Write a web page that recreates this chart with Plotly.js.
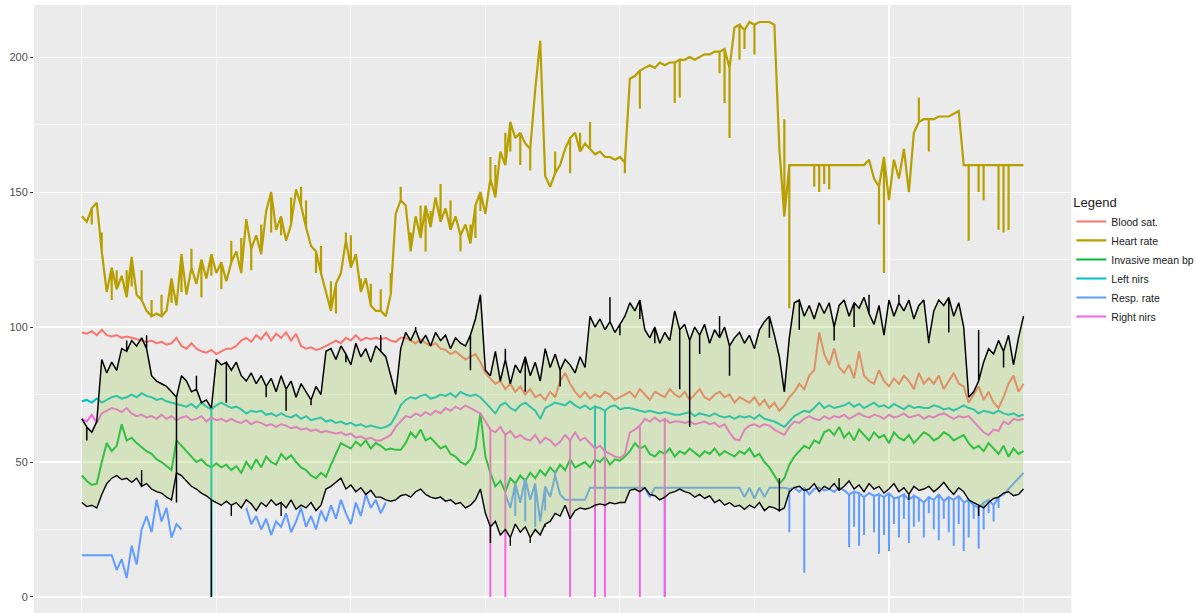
<!DOCTYPE html>
<html>
<head>
<meta charset="utf-8">
<script src="https://cdn.plot.ly/plotly-3.0.1.min.js"></script>
<style>html,body{margin:0;padding:0;background:#fff;}#chart{width:1197px;height:613px;}</style>
</head>
<body>
<div id="chart"></div>
<script>
// time axis (sample index, 5 units apart)
const time = [
0,5,10,15,20,25,30,35,40,45, 50,55,60,65,70,75,80,85,90,95,
100,105,110,115,120,125,130,135,140,145, 150,155,160,165,170,175,180,185,190,195,
200,205,210,215,220,225,230,235,240,245, 250,255,260,265,270,275,280,285,290,295,
300,305,310,315,320,325,330,335,340,345, 350,355,360,365,370,375,380,385,390,395,
400,405,410,415,420,425,430,435,440,445, 450,455,460,465,470,475,480,485,490,495,
500,505,510,515,520,525,530,535,540,545, 550,555,560,565,570,575,580,585,590,595,
600,605,610,615,620,625,630,635,640,645, 650,655,660,665,670,675,680,685,690,695,
700,705,710,715,720,725,730,735,740,745, 750,755,760,765,770,775,780,785,790,795,
800,805,810,815,820,825,830,835,840,845, 850,855,860,865,870,875,880,885,890,895,
900,905,910,915,920,925,930,935,940,945];

const bloodSat = [
98,97.5,98.5,97,99,97,96.5,97,96,96.5, 96,95.5,95,94.5,95,94,94.5,93.5,94,96,
93,92,94,92,91,90.5,91.5,90,91,92, 92,93,95,96,94.5,97,95.5,98,95,97.5,
96,98,95,97.5,93,92,92.5,91.5,92,93, 94,95,94,96,95,97,95,96,95.5,96,
95.5,96,95,94.5,96,96,95,94,95.5,94, 93,94,92,91.5,90,91,89.5,88,89,90,
87,83,81,79,80,77,79,76,78,75, 77,74,75,73,76,74,80,83,79,76,
74,76,73.5,75,74,76,75,73,74,75, 76,74,77,75,73,76,75,74,77,75,
74,76,73,75,77,74,73,75,76,74, 75,72,74,73,72,74,71,73,70,72,
69,71,74,76,79,77,82,84,98,90, 86,92,85,83,86,81,91,82,80,79,
84,80,78,81,79,82,80,77,83,79, 81,79,82,77,80,83,79,78,72,75,
78,73,76,72,70,74,79,82,76,79];

const heartRate = [
141,139,144,146,128,113,122,114,119,111, 126,112,110,106,104,105,104,106,118,108,
127,112,122,116,125,118,127,120,124,117, 124,128,120,140,129,134,127,143,150,136,
141,132,138,151,145,137,130,128,120,113, 106,116,120,132,122,127,113,118,108,106,
106,104,112,142,147,145,128,141,133,145, 137,148,139,144,136,141,134,138,131,145,
150,142,155,148,165,160,176,170,172,168, 166,188,206,156,152,157,160,166,170,172,
165,168,166,164,165,163,163,162,163,161, 192,193,195,196,197,196,198,197,198,198,
199,199,200,199,200,201,201,202,202,203, 196,211,212,210,213,212,213,213,213,212,
166,141,160,160,160,160,160,160,160,160, 160,160,160,160,160,160,160,160,162,155,
152,163,147,162,155,166,150,172,176,177, 177,177,178,178,178,179,180,160,160,160,
160,160,160,160,160,160,160,160,160,160];
const heartRateSpikeT = [10,20,30,35,45,50,60,70,80,90,100,110,120,130,140,150,160,170,180,190,200,210,220,225,235,240,250,255,265,270,280,290,300,310,320,330,340,345,350,360,370,380,390,395,400,410,415,425,430,440,450,475,490,500,510,545,560,595,600,640,645,650,660,665,675,705,710,735,740,745,750,800,805,840,850,890,900,905,920,925,930];
const heartRateSpikeV = [138,135,110,121,121,115,121,110,112,109,113,129,111,119,114,132,133,121,138,135,134,148,152,147,120,130,117,105,135,134,118,116,114,120,152,135,145,128,143,153,147,128,138,133,143,163,160,172,165,160,158,165,157,172,176,157,181,183,185,194,183,170,199,203,201,177,107,152,150,153,151,138,120,185,165,132,150,147,136,135,136];

const invasiveBp = [
45,43,41.5,42,50,57,54,56,64,58, 59,57,55.5,54,53,51,50,48.5,47,58,
56,54,52,50,51,49,48,49.5,48,49, 47,48.5,46,50,47.5,51,48,52,50,49,
53,51,52.5,50,48,47,45,44,46,44.5, 49,53,57,56,55,57.5,56,58,55,57,
56,54.5,55,54.5,54.5,57,61,59,62,58, 59,57,55,56,53,52,50,49,51,55,
68,52,46,41,43,39,44,42,45,43, 46,44,47,45,48,46,49,47,51,48,
49,50,48,51,50,52,49,51,50.5,52, 54,57,55,56,53,52,54,53,55,52,
54,53,55,53.5,52,54,53,55,52.5,54, 53,52,54,53,55,52,53,50,48,45,
42,44,49,52,54,56,55,58,57,61, 62,60,63,59,61,58,62,60,58,61,
59,60,57,61,59,58,60,57,59,61, 60,58,59,61,60,58,59,60,57,55,
56,54,57,55,53,56,52,55,53,54];

const leftNirs = [
72.5,73,72,73.5,72,73,74,74.5,73.5,74, 75,74,75.5,74.5,74,73,73.5,72.5,72,71.5,
71,70.5,71.5,70,72,70.5,69.5,71,72,71, 70,70.5,69.5,68,69,68.5,69,67.5,68,67,
68,67,66.5,67.5,66,67,65.5,66,66.5,65, 65.5,64.5,65,64,64.5,63.5,64,63,63.5,63,
62.5,63,64,67,71,73,74,73.5,74.5,75, 73.5,74,75,74.5,75.5,74,76,75,74.5,75,
74,72,70,68,71,72,70,69,71,72, 70.5,69,66,70,71,72,71.5,71,72.5,71,
70,71,69.5,70.5,70,69,70.5,71,69.5,70, 70,69.5,69,68.5,69,68.5,68,68.5,68,67.5,
67.5,68,68.5,67,68,67.5,67,68,67,66.5, 67,66,67,66.5,67,66,67.5,66,65.5,65,
64,63,65,67,68,69,68.5,70,72,70, 71,70,70.5,71,72,70.5,71.5,70,71,72,
70.5,71,70,71.5,70.5,69.5,71,70,70.5,70, 70,71,70.5,69.5,70,69,70,71,70,69.5,
68,69,68.5,68,69,68,67.5,68,67,67.5];
const leftNirsDropT = [130,515,525];
const leftNirsDropV = [0,46,47];

const respRate = [
15.5,15.5,15.5,15.5,15.5,15.5,15.5,10,14,7, 19,12,25,30,24,36,28,33,22,27,
25,null,null,null,null,null,null,null,null,null, null,null,null,33,27,30,25,29,23,28,
26,31,24,28,33,26,30,25,32,28, 34,29,36,31,27,35,30,38,33,36,
31,35,null,null,null,null,null,null,null,null, null,null,null,null,null,null,null,null,null,null,
null,null,null,null,null,38,33,42,35,44, 36,42,28,41,37,45,38,36,36,36,
36,36,40.5,40.5,40.5,40.5,40.5,40.5,40.5,40.5, 40.5,40.5,40.5,40.5,37,40.5,40.5,40.5,40.5,40.5,
40.5,40.5,40.5,40.5,40.5,40.5,40.5,40.5,40.5,40.5, 40.5,40.5,40.5,37,40.5,36.5,40.5,37,40.5,40.5,
40.5,40.5,40,40.5,39,40.5,38,40,40.5,39.5, 40,39,40.5,39.5,38,39,38.5,37,38.5,37.5,
38,37,38.5,36.5,37,38,36,37.5,36.5,35, 37,36,38,35.5,37,36,37.5,35,36,34,
33,35,36,34,37,38,40,42,44,46];
const respRateSpikeT = [435,445,455,465,475,585,710,725,770,775,780,785,795,800,805,810,815,820,825,830,835,840,845,850,855,860,865,870,875,880,885,890,895,900,905,910,915,920];
const respRateSpikeV = [30,28,26,32,47,0,24,9,18.5,26,19,23,24,16,23,17,27,22,29,20,26,28,22,31,25,21,29,24,19,27,17,22,29,18,25,31,28,33];

const rightNirs = [
66,65,67.5,64.5,68,69,70,69.5,68.5,70, 68,67,67.5,66.5,67,66,67.5,66,67,65.5,
66.5,67,65.5,66,67,65,66.5,65.5,66,65, 66,65,64.5,65.5,64,65,64.5,63.5,64,63,
64,63.5,62.5,63,62,62.5,61.5,62,61,61.5, 61,60.5,61,60,60.5,59,59.5,58.5,59,58,
58,59,60,63,65,67,66.5,68,67,68.5, 67.5,69,68,70,69,70.5,69.5,71,70,69,
68,65,62,61,63,60,61.5,59,60,58.5, 58,60,57,59,58,56,57.5,60,58,61,
58,59,57,55,56,54,53,52,51.5,53, 61,62,63.5,66,65,66.5,65,66,64.5,65,
65,64.5,65,64,64.5,65,64,64.5,63,64, 61,58.5,58,62,63.5,64,63,64,63.5,62,
61,60,63,65,64.5,66,67,66,65.5,67, 66,67,66.5,67.5,66,67,68,67,66.5,67.5,
67,66,67.5,66.5,67,68,66.5,67,67.5,66, 67,66.5,67.5,68,67,66,67,66.5,67,65,
63,61,60,62,61.5,65,64,66,65.5,66];
const rightNirsDropT = [410,425,490,515,525,560,585];
const rightNirsDropV = [0,0,0,0,0,0,0];

// envelope (black lines) and shaded band
const upperBound = [
66,63,61,65,88,83,87,84,92,91, 95,93,96,92,82,80,79,78,76,74,
82,80,76,77,72,73,70,88,86,87, 84,87,82,80,83,79,82,78,81,76,
82,77,80,74,79,76,73,78,75,91, 92,88,93,90,86,94,89,92,87,93,
91,89,82,75,92,98,95,99,94,97, 93,98,95,97,92,96,94,93,97,103,
112,84,82,91,80,88,79,86,83,89, 82,87,80,92,85,90,84,88,86,83,
89,85,104,100,103,99,102,98,101,104, 109,106,110,99,96,100,94,98,95,106,
99,101,95,100,97,101,94,99,96,100, 93,96,98,94,97,92,99,102,104,97,
89,76,96,109,110,104,108,103,109,105, 109,100,108,110,104,109,107,111,105,101,
108,97,110,104,109,106,110,103,108,110, 95,106,110,108,111,104,109,100,74,76,
80,87,92,90,95,91,97,86,96,104];
const upperBoundSpikeT = [5,45,65,95,115,145,185,205,230,265,300,335,390,425,445,480,530,540,560,575,600,610,620,640,650,690,720,755,775,790,805,820,850,870,900,925];
const upperBoundSpikeV = [58,95,97,35,82,72,74,69,71,87,97,100,84,92,76,78,111,97,103,94,77,63,90,104,82,96,99,95,100,112,99,112,94,98,99,85];

const lowerBound = [
35,33.5,34,33,38,42,44,45,43.5,44, 42.5,44,41,42,40,39,38.5,37,36,46,
45,43,41,40,38.5,37.5,36,35,34,35.5, 34,35,33,36,34.5,32,35,33.5,36,34,
35,33,36,32.5,34,33,35,32,34,40, 41,42.5,44,40,41.5,39,40.5,38,39.5,37,
37,36,35.5,36,37.5,38,37,39,40,38, 37,36.5,37,35.5,36,34.5,35,33,34,36,
40,31,26,28,23,25,22,27,24,26, 22,25,23,27,28,31,30,34,29,32,
33,32.5,33,34,34.5,34,35,34.5,35,35, 39.5,40,39,40.5,38,37.5,36,37,38.5,39,
40,39,38.5,37,38,36.5,37.5,35,36,34, 35,33.5,34,32.5,34,33,35,32,33.5,33,
32,33,39,40.5,41,39.5,40,42,39,41, 40,42,39.5,41,43,40,41.5,39,42,40,
41,38.5,40,42,39,40.5,38,41,39.5,40, 41,39,40.5,42.5,40,38,40.5,39,36,35,
34,33,35,36.5,37,38.5,39,37.5,38,40];
const lowerBoundDropT = [60,130,150,200,410,430,450,465,700,760,830,900];
const lowerBoundDropV = [47,0,30,30,20,19,20,26,44,44,36,30];

const seriesNames = ['Blood sat.','Heart rate','Invasive mean bp','Left nirs','Resp. rate','Right nirs'];
const seriesColors = ['#F8766D','#B79F00','#00BA38','#00BFC4','#619CFF','#F564E3'];

// builds a line where listed samples also contain a brief vertical excursion
function withSpikes(t, v, spikeT, spikeV) {
  const xs = [], ys = [];
  for (let i = 0; i < t.length; i++) {
    xs.push(t[i]); ys.push(v[i]);
    if (spikeT) {
      for (let j = 0; j < spikeT.length; j++) {
        if (spikeT[j] === t[i] && v[i] !== null) {
          xs.push(t[i], t[i]); ys.push(spikeV[j], v[i]);
        }
      }
    }
  }
  return {x: xs, y: ys};
}

const seriesData = [
  withSpikes(time, bloodSat),
  withSpikes(time, heartRate, heartRateSpikeT, heartRateSpikeV),
  withSpikes(time, invasiveBp),
  withSpikes(time, leftNirs, leftNirsDropT, leftNirsDropV),
  withSpikes(time, respRate, respRateSpikeT, respRateSpikeV),
  withSpikes(time, rightNirs, rightNirsDropT, rightNirsDropV)
];
const seriesWidths = [2, 2.2, 2, 2, 2, 2];

const traces = seriesData.map((d, i) => ({
  type: 'scatter', mode: 'lines', x: d.x, y: d.y,
  name: seriesNames[i],
  line: {color: seriesColors[i], width: seriesWidths[i]},
  hoverinfo: 'skip'
}));

const lo = withSpikes(time, lowerBound, lowerBoundDropT, lowerBoundDropV);
const hi = withSpikes(time, upperBound, upperBoundSpikeT, upperBoundSpikeV);
traces.push({type:'scatter', mode:'lines', x: lo.x, y: lo.y, showlegend:false,
  line:{color:'#000000', width:1.4}, hoverinfo:'skip'});
traces.push({type:'scatter', mode:'lines', x: hi.x, y: hi.y, showlegend:false,
  fill:'tonexty', fillcolor:'rgba(162,205,90,0.3)',
  line:{color:'#000000', width:1.5}, hoverinfo:'skip'});

const layout = {
  width: 1197, height: 613,
  margin: {l: 34, r: 122, t: 5, b: 0},
  paper_bgcolor: '#FFFFFF', plot_bgcolor: '#EBEBEB',
  font: {family: 'Liberation Sans, Arial, sans-serif'},
  xaxis: {
    range: [-48, 993], showticklabels: false, ticks: '', zeroline: false, showline: false,
    tickmode: 'linear', tick0: 0, dtick: 270,
    showgrid: true, gridcolor: '#FFFFFF', gridwidth: 1.1,
    minor: {tick0: 0, dtick: 135, showgrid: true, gridcolor: '#FFFFFF', gridwidth: 0.55}
  },
  yaxis: {
    range: [-5.93, 219.3], zeroline: false, showline: false,
    tickmode: 'linear', tick0: 0, dtick: 50,
    ticks: 'outside', ticklen: 3, tickwidth: 1, tickcolor: '#333333',
    tickfont: {size: 11, color: '#4D4D4D'},
    showgrid: true, gridcolor: '#FFFFFF', gridwidth: 1.1,
    minor: {tick0: 0, dtick: 25, showgrid: true, gridcolor: '#FFFFFF', gridwidth: 0.55}
  },
  legend: {
    xref: 'container', yref: 'container',
    x: 0.895, xanchor: 'left', y: 0.69, yanchor: 'top',
    traceorder: 'normal',
    bgcolor: 'rgba(0,0,0,0)',
    title: {text: 'Legend', font: {size: 13, color: '#1A1A1A'}},
    font: {size: 10.5, color: '#1A1A1A'}
  },
  showlegend: true
};

Plotly.newPlot('chart', traces, layout, {staticPlot: true, displayModeBar: false});
</script>
</body>
</html>
